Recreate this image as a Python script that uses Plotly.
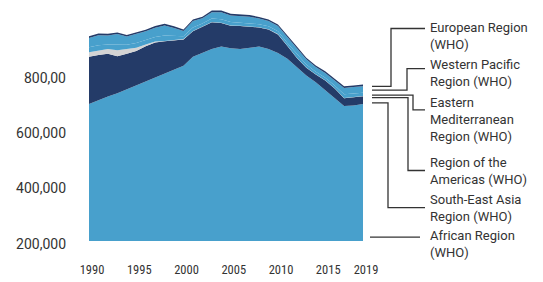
import plotly.graph_objects as go

years = list(range(1990, 2020))

african = [694, 708, 721, 733, 747, 761, 775, 790, 804, 818,
           832, 864, 878, 892, 901, 895, 892, 897, 901, 892,
           878, 857, 828, 797, 772, 744, 715, 687, 689, 694]
south_east_asia = [170, 163, 154, 133, 128, 124, 127, 126, 116, 106,
                   95, 92, 95, 97, 85, 81, 83, 76, 69, 71,
                   67, 46, 32, 28, 28, 35, 35, 28, 30, 28]
americas = [17, 15, 17, 22, 17, 12, 7, 3, 1, 1,
            1, 1, 1, 1, 1, 1, 1, 1, 1, 1,
            1, 1, 1, 1, 1, 1, 1, 1, 1, 1]
eastern_med = [18, 20, 17, 20, 16, 17, 17, 17, 20, 15,
               10, 13, 10, 12, 13, 13, 12, 12, 11, 10,
               10, 10, 12, 10, 9, 9, 10, 13, 12, 12]
western_pacific = [33, 36, 32, 38, 29, 32, 30, 33, 36, 28,
                   19, 23, 19, 23, 25, 23, 23, 23, 20, 19,
                   19, 19, 22, 19, 17, 17, 19, 23, 23, 23]
european = [6, 6, 6, 6, 6, 6, 6, 6, 6, 6,
            6, 6, 6, 6, 6, 6, 6, 6, 6, 6,
            6, 6, 6, 6, 6, 6, 6, 6, 6, 6]

series = [
    ("African Region (WHO)", african, "#48a0cc"),
    ("South-East Asia Region (WHO)", south_east_asia, "#243b68"),
    ("Region of the Americas (WHO)", americas, "#d4d4d4"),
    ("Eastern Mediterranean Region (WHO)", eastern_med, "#48a0cc"),
    ("Western Pacific Region (WHO)", western_pacific, "#48a0cc"),
    ("European Region (WHO)", european, "#243b68"),
]

x_ticks = [1990, 1995, 2000, 2005, 2010, 2015, 2019]
y_ticks = [200000, 400000, 600000, 800000]
y_tick_text = ["200,000", "400,000", "600,000", "800,00"]

fig = go.Figure()
for name, vals, col in series:
    fig.add_trace(go.Scatter(
        x=years, y=[v * 1000 for v in vals], name=name,
        mode="lines", stackgroup="one", line=dict(width=0, color=col),
        fillcolor=col, hoverinfo="skip"))

W, H = 543, 282
L, R, T, B = 89, 180, 5, 36
pw, ph = W - L - R, H - T - B


def px(xp):
    return (xp - L) / pw


def py(yp):
    return (H - B - yp) / ph


labels = [
    ("European Region<br>(WHO)", 36.5),
    ("Western Pacific<br>Region (WHO)", 74.5),
    ("Eastern<br>Mediterranean<br>Region (WHO)", 121.5),
    ("Region of the<br>Americas (WHO)", 174.5),
    ("South-East Asia<br>Region (WHO)", 212.5),
    ("African Region<br>(WHO)", 249.5),
]
annotations = []
for text, yc in labels:
    annotations.append(dict(
        x=px(428), y=py(yc), xref="paper", yref="paper", text=text,
        showarrow=False, xanchor="left", yanchor="middle", align="left",
        font=dict(family="Roboto, sans-serif", size=13, color="#333333")))

connectors = [
    [(372, 88), (391, 88), (391, 29), (425, 29)],
    [(372, 92), (407, 92), (407, 70), (425, 70)],
    [(372, 97), (413, 97), (413, 112), (425, 112)],
    [(372, 99.5), (408, 99.5), (408, 174), (425, 174)],
    [(372, 105), (388, 105), (388, 212), (425, 212)],
    [(370, 242), (420, 242)],
]
shapes = []
for pts in connectors:
    path = "M " + " L ".join(f"{px(a):.5f},{py(b):.5f}" for a, b in pts)
    shapes.append(dict(type="path", path=path, xref="paper", yref="paper",
                       line=dict(color="#333333", width=1.3)))

fig.update_layout(
    width=W, height=H,
    margin=dict(l=L, r=R, t=T, b=B),
    paper_bgcolor="white", plot_bgcolor="white",
    showlegend=False,
    annotations=annotations, shapes=shapes,
    xaxis=dict(range=[1990, 2019], tickvals=x_ticks, showgrid=False,
               zeroline=False, showline=False, ticks="",
               ticklabelstandoff=19, ticklabelshift=3,
               tickfont=dict(family="Liberation Sans Narrow, Roboto Condensed, Roboto, sans-serif",
                             size=12.5, color="#333333")),
    yaxis=dict(range=[200000, 1051000], tickvals=y_ticks, ticktext=y_tick_text,
               showgrid=False, zeroline=False, showline=False, ticks="",
               ticklabelstandoff=22, ticklabelshift=3,
               tickfont=dict(family="Roboto, sans-serif", size=14, color="#333333")),
)

fig.write_html("out.html", config={"displayModeBar": False},
               post_script="document.body.style.margin='0';document.body.style.overflow='hidden';")
